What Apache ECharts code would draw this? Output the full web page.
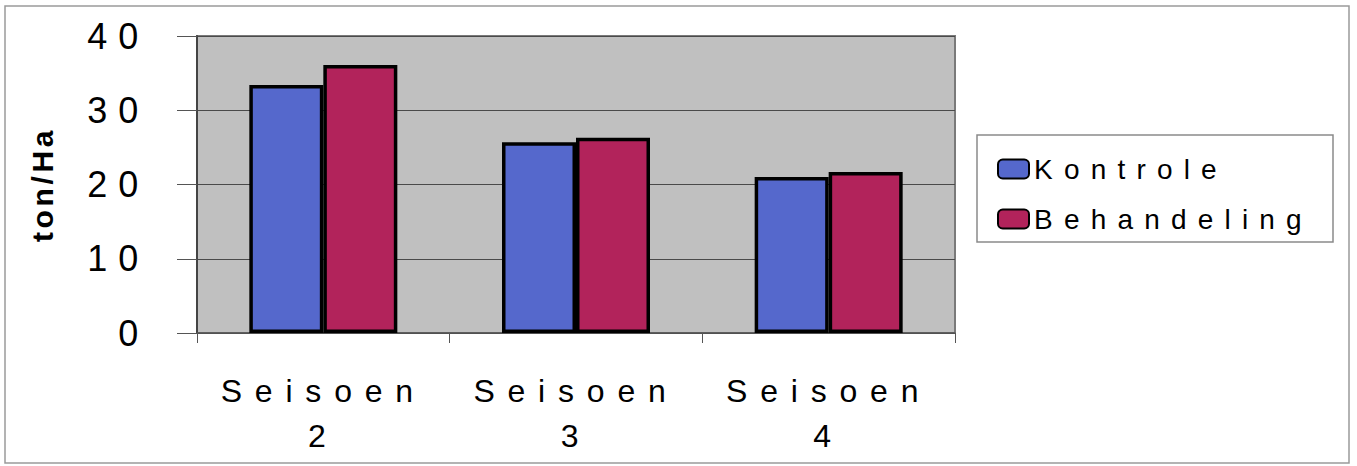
<!DOCTYPE html>
<html>
<head>
<meta charset="utf-8">
<script src="https://cdn.jsdelivr.net/npm/echarts@6/dist/echarts.min.js"></script>
<style>
  html, body { margin: 0; padding: 0; background: #fff; }
  #chart { width: 1357px; height: 466px; }
  #chart text { letter-spacing: 0.4em; }
  #chart text[style*="36px"] { letter-spacing: 0.3em; }
  #chart text[style*="30px"] { letter-spacing: 0.12em; }
</style>
</head>
<body>
<div id="chart"></div>
<script>
const categories = ['Seisoen\n2', 'Seisoen\n3', 'Seisoen\n4'];
const kontrole = [33.4, 25.7, 21.0];
const behandeling = [36.1, 26.3, 21.7];
const seriesNames = ['Kontrole', 'Behandeling'];
const yTicks = { min: 0, max: 40, interval: 10 };

const chart = echarts.init(document.getElementById('chart'), null, { renderer: 'svg' });
const FONT = 'Liberation Sans, Arial, sans-serif';

chart.setOption({
  animation: false,
  backgroundColor: '#ffffff',
  textStyle: { fontFamily: FONT, color: '#000' },
  graphic: [
    { type: 'rect', shape: { x: 5, y: 6, width: 1344, height: 457 }, style: { fill: 'none', stroke: '#9a9a9a', lineWidth: 1.5 }, z: -10 },
    { type: 'rect', shape: { x: 977, y: 135, width: 356, height: 107 }, style: { fill: '#fff', stroke: '#8a8a8a', lineWidth: 1.5 }, z: -5 }
  ],
  grid: {
    left: 197, top: 36, width: 758, height: 297,
    show: true, backgroundColor: '#c0c0c0', borderColor: '#7a7a7a', borderWidth: 2
  },
  legend: {
    orient: 'vertical', left: 997, top: 154, padding: 0,
    itemWidth: 31, itemHeight: 19, itemGap: 20,
    data: seriesNames,
    textStyle: { fontFamily: FONT, fontSize: 28, lineHeight: 30, color: '#000' }
  },
  xAxis: {
    type: 'category', data: categories, boundaryGap: true,
    axisLine: { lineStyle: { color: '#555', width: 1.5 } },
    axisTick: { show: true, length: 10, lineStyle: { color: '#555' } },
    axisLabel: { fontFamily: FONT, fontSize: 32, lineHeight: 45, color: '#000', margin: 35 }
  },
  yAxis: {
    type: 'value', min: yTicks.min, max: yTicks.max, interval: yTicks.interval,
    name: 'ton/Ha', nameLocation: 'middle', nameRotate: 90, nameGap: 140,
    nameTextStyle: { fontFamily: FONT, fontSize: 30, fontWeight: 'bold', color: '#000' },
    axisLine: { show: true, lineStyle: { color: '#444', width: 2 } },
    axisTick: { show: true, length: 20, lineStyle: { color: '#555' } },
    axisLabel: { fontFamily: FONT, fontSize: 36, color: '#000', margin: 48 },
    splitLine: { show: true, lineStyle: { color: '#4a4a4a', width: 1 } }
  },
  series: [
    { name: seriesNames[0], type: 'bar', data: kontrole, barWidth: 74, barGap: '0%',
      itemStyle: { color: '#5568cc', borderColor: '#000', borderWidth: 3.5 } },
    { name: seriesNames[1], type: 'bar', data: behandeling, barWidth: 74, barGap: '0%',
      itemStyle: { color: '#b2235b', borderColor: '#000', borderWidth: 3.5 } }
  ]
});
</script>
</body>
</html>
